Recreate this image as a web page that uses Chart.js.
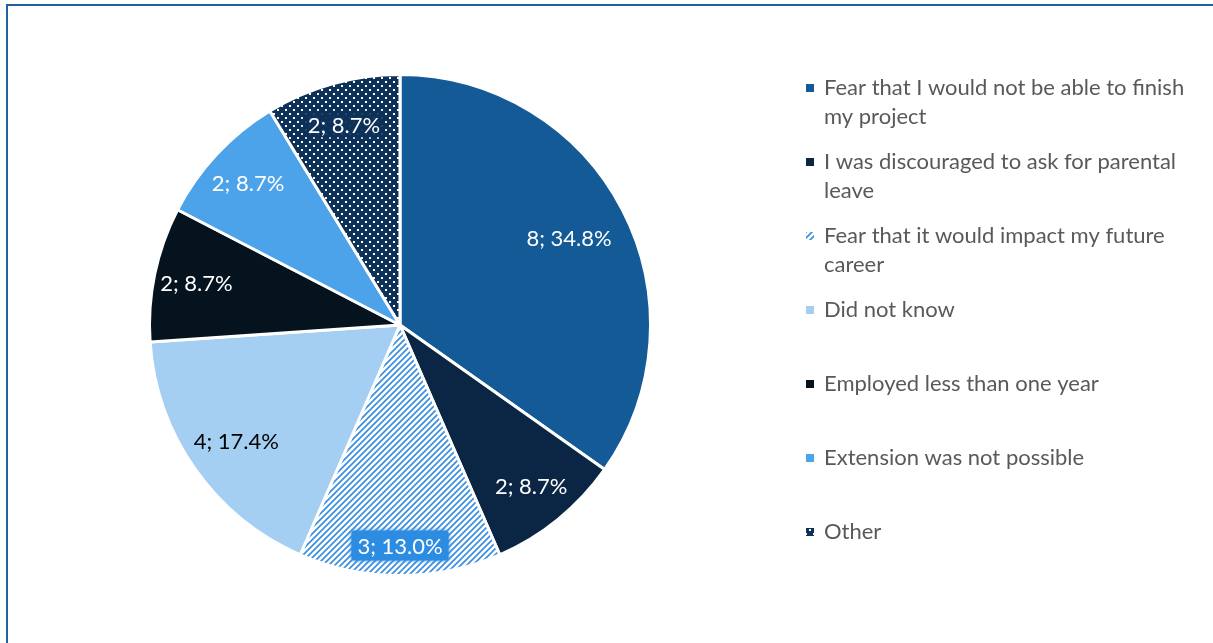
<!DOCTYPE html>
<html lang="en">
<head>
  <meta charset="UTF-8" />
  <title>Reasons for not taking parental leave</title>
  <script src="https://cdn.jsdelivr.net/npm/chart.js"></script>
  <style>
    html, body {
      margin: 0;
      padding: 0;
      background: #ffffff;
      overflow: hidden;
    }

    .frame {
      position: absolute;
      left: 6px;
      top: 4px;
      width: 1400px;
      height: 800px;
      border-top: 2px solid #2361a0;
      border-left: 2px solid #2361a0;
    }

    .wrap {
      position: absolute;
      left: 0;
      top: 0;
    }
  </style>
</head>
<body>
  <div class="frame"></div>
  <div class="wrap"><canvas id="pieChart" width="1213" height="643"></canvas></div>

  <script>
    const categories = [
      ['Fear that I would not be able to finish', 'my project'],
      ['I was discouraged to ask for parental', 'leave'],
      ['Fear that it would impact my future', 'career'],
      ['Did not know'],
      ['Employed less than one year'],
      ['Extension was not possible'],
      ['Other']
    ];
    const counts = [8, 2, 3, 4, 2, 2, 2];

    const FONT = 'Lato, "Open Sans", sans-serif';

    // hatched fill: thin blue diagonals on white
    function hatchPattern() {
      const c = document.createElement('canvas');
      c.width = 6; c.height = 6;
      const g = c.getContext('2d');
      g.fillStyle = '#ffffff';
      g.fillRect(0, 0, 6, 6);
      g.strokeStyle = '#3a8ee0';
      g.lineWidth = 1.7;
      g.beginPath();
      g.moveTo(0, 6); g.lineTo(6, 0);
      g.moveTo(-1, 1); g.lineTo(1, -1);
      g.moveTo(5, 7); g.lineTo(7, 5);
      g.stroke();
      return g.createPattern(c, 'repeat');
    }

    // dotted fill: white dots on dark navy
    function dotPattern() {
      const c = document.createElement('canvas');
      c.width = 8; c.height = 8;
      const g = c.getContext('2d');
      g.fillStyle = '#0d3157';
      g.fillRect(0, 0, 8, 8);
      g.fillStyle = '#ffffff';
      g.fillRect(1, 1, 2, 2);
      g.fillRect(5, 5, 2, 2);
      return g.createPattern(c, 'repeat');
    }

    const sliceFills = ['#145a96', '#0b2644', hatchPattern(), '#a5cff2', '#05131f', '#4ca3ea', dotPattern()];
    const labelColors = ['#ffffff', '#ffffff', '#ffffff', '#000000', '#ffffff', '#ffffff', '#ffffff'];
    const labelDist = [0.76, 0.83, 0.88, 0.80, 0.83, 0.83, 0.83];

    const total = counts.reduce((a, b) => a + b, 0);

    const sliceLabels = {
      id: 'sliceLabels',
      afterDatasetsDraw(chart) {
        const ctx = chart.ctx;
        const arcs = chart.getDatasetMeta(0).data;
        ctx.save();
        ctx.font = '22px ' + FONT;
        ctx.textAlign = 'center';
        ctx.textBaseline = 'middle';
        arcs.forEach((arc, i) => {
          const p = arc.getProps(['x', 'y', 'startAngle', 'endAngle', 'outerRadius'], true);
          const mid = (p.startAngle + p.endAngle) / 2;
          const r = p.outerRadius * labelDist[i];
          const x = p.x + Math.cos(mid) * r;
          const y = p.y + Math.sin(mid) * r;
          const text = counts[i] + '; ' + (counts[i] / total * 100).toFixed(1) + '%';
          const w = ctx.measureText(text).width + 12;
          if (i === 2) {
            // highlighted box behind the hatched slice's label
            ctx.save();
            ctx.fillStyle = '#2b8ce2';
            ctx.shadowColor = 'rgba(43,140,226,0.9)';
            ctx.shadowBlur = 4;
            ctx.beginPath();
            ctx.roundRect(x - w / 2, y - 15, w, 30, 3);
            ctx.fill();
            ctx.restore();
          } else if (i === 6) {
            // soft dark backing so the label reads over the dots
            ctx.save();
            ctx.fillStyle = 'rgba(13,49,87,0.8)';
            ctx.shadowColor = 'rgba(13,49,87,1)';
            ctx.shadowBlur = 6;
            ctx.fillRect(x - w / 2 + 3, y - 12, w - 6, 24);
            ctx.restore();
          }
          ctx.fillStyle = labelColors[i];
          ctx.fillText(text, x, y + 1);
        });
        ctx.restore();
      }
    };

    const sideLegend = {
      id: 'sideLegend',
      afterDraw(chart) {
        const ctx = chart.ctx;
        ctx.save();
        ctx.font = '22px ' + FONT;
        ctx.textBaseline = 'middle';
        categories.forEach((lines, i) => {
          const top = 88 + i * 74;
          ctx.fillStyle = sliceFills[i];
          ctx.fillRect(806, top - 4, 8, 8);
          ctx.fillStyle = '#595959';
          lines.forEach((line, k) => ctx.fillText(line, 824, top + k * 29));
        });
        ctx.restore();
      }
    };

    new Chart(document.getElementById('pieChart'), {
      type: 'pie',
      data: {
        labels: categories,
        datasets: [{
          data: counts,
          backgroundColor: sliceFills,
          borderColor: '#ffffff',
          borderWidth: 3
        }]
      },
      options: {
        responsive: false,
        animation: false,
        layout: {
          padding: { left: 148, right: 561, top: 73, bottom: 66 }
        },
        plugins: {
          legend: { display: false },
          tooltip: { enabled: false }
        }
      },
      plugins: [sliceLabels, sideLegend]
    });
  </script>
</body>
</html>
